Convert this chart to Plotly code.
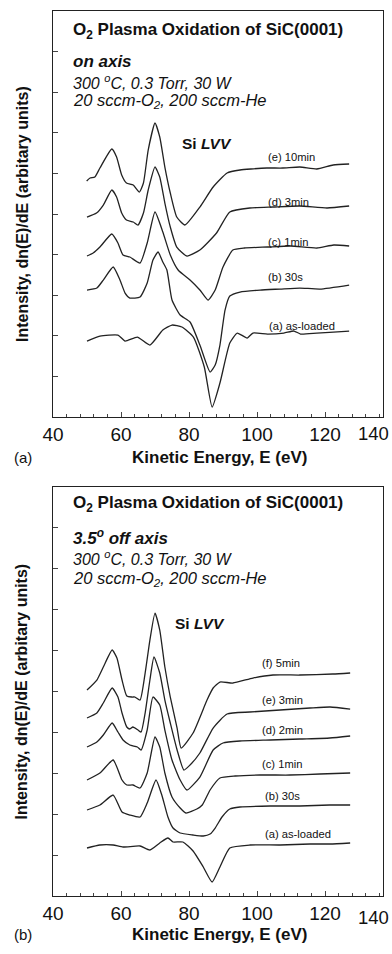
import plotly.graph_objects as go

# ---------------- Panel (a): on axis ----------------
# Kinetic energy (eV) and intensity (arbitrary units, offset curves)
a_e_E = [49.9, 50.9, 52.3, 53.8, 57.3, 58.7, 60.2, 61.6, 63.6, 65.4, 66.6, 68.0, 70.0, 71.4, 72.9, 74.5, 76.4, 78.8, 83.2, 87.1, 91.2, 95.0, 98.2, 102.9, 107.6, 112.6, 117.6, 122.4, 127.1]
a_e_I = [236, 239, 240, 249, 268, 260, 242, 234, 232, 225, 234, 267, 294, 280, 250, 224, 200, 192, 210, 230, 244, 247, 248, 249, 249, 250, 248, 252, 253]

a_d_E = [50.0, 52.8, 54.8, 57.3, 58.7, 60.2, 61.6, 63.6, 65.0, 66.6, 68.0, 70.0, 71.4, 72.9, 74.5, 76.4, 79.4, 83.2, 88.1, 92.0, 97.9, 104.7, 112.6, 120.6, 127.1]
a_d_I = [200, 204, 212, 227, 220, 204, 197, 195, 192, 204, 227, 250, 240, 214, 190, 170, 161, 167, 184, 205, 209, 210, 211, 209, 211]

a_c_E = [50.0, 51.8, 53.8, 57.3, 59.1, 60.6, 62.6, 65.6, 67.7, 70.0, 72.3, 74.5, 76.8, 80.3, 83.2, 85.6, 87.7, 90.0, 92.9, 96.3, 103.1, 109.9, 117.6, 122.6, 127.1]
a_c_I = [161, 164, 170, 183, 174, 162, 160, 154, 174, 205, 185, 162, 147, 137, 127, 117, 127, 150, 167, 169, 170, 171, 169, 172, 171]

a_b_E = [50.0, 52.9, 54.8, 57.7, 59.7, 61.2, 62.6, 65.6, 67.7, 69.4, 70.9, 72.3, 73.5, 75.0, 77.4, 80.3, 83.2, 86.2, 87.7, 89.1, 90.6, 92.0, 95.0, 100.9, 106.8, 112.6, 118.5, 127.1]
a_b_I = [127, 129, 137, 150, 137, 124, 119, 120, 134, 157, 165, 155, 147, 117, 102, 95, 72, 45, 52, 72, 107, 121, 125, 127, 128, 129, 128, 132]

a_a_E = [50.0, 53.8, 59.1, 61.2, 64.8, 68.5, 72.3, 75.0, 77.9, 81.3, 84.5, 86.8, 89.1, 92.0, 94.2, 97.1, 98.8, 103.1, 107.9, 110.9, 112.8, 117.6, 122.5, 127.1]
a_a_I = [76, 81, 82, 76, 80, 72, 87, 92, 90, 80, 50, 10, 34, 74, 84, 79, 84, 83, 84, 86, 83, 84, 85, 86]

# ---------------- Panel (b): 3.5 deg off axis ----------------
b_f_E = [50.0, 52.9, 54.8, 57.4, 58.8, 60.3, 61.7, 63.2, 64.1, 65.6, 67.1, 68.5, 70.0, 71.4, 72.9, 74.5, 76.5, 77.7, 81.2, 85.3, 87.1, 89.1, 92.9, 98.8, 104.7, 112.6, 122.3, 127.4]
b_f_I = [206, 216, 229, 246, 238, 216, 200, 199, 199, 196, 223, 256, 283, 266, 229, 199, 168, 148, 163, 196, 208, 214, 213, 218, 221, 221, 222, 223]

b_e_E = [50.0, 52.9, 54.8, 57.4, 59.1, 60.3, 61.7, 62.6, 63.5, 65.0, 65.9, 67.1, 68.5, 69.7, 71.4, 72.9, 74.5, 76.5, 78.5, 80.3, 83.2, 87.1, 91.2, 97.9, 106.8, 115.6, 121.5, 127.4]
b_e_I = [178, 183, 193, 208, 199, 183, 169, 167, 169, 166, 164, 183, 216, 239, 223, 196, 173, 146, 126, 131, 143, 168, 182, 184, 186, 188, 189, 187]

b_d_E = [50.0, 52.9, 54.8, 57.4, 59.1, 60.6, 62.6, 64.8, 65.9, 67.7, 69.4, 71.4, 72.9, 75.0, 77.4, 79.4, 83.2, 87.1, 90.0, 95.0, 103.9, 112.6, 121.4, 127.4]
b_d_I = [149, 154, 161, 173, 164, 156, 151, 149, 146, 166, 199, 191, 166, 136, 116, 106, 119, 146, 153, 155, 156, 157, 158, 160]

b_c_E = [50.0, 53.8, 57.7, 60.3, 61.7, 63.5, 65.6, 67.7, 70.0, 71.4, 72.9, 75.0, 77.4, 79.1, 82.3, 83.9, 86.2, 89.1, 93.6, 100.9, 109.7, 118.5, 127.4]
b_c_I = [116, 123, 136, 116, 111, 111, 108, 123, 159, 149, 123, 99, 88, 83, 87, 91, 106, 118, 120, 121, 121, 122, 123]

b_b_E = [50.0, 53.8, 57.7, 60.3, 62.6, 65.6, 67.7, 70.3, 72.0, 73.8, 75.3, 77.4, 81.2, 84.2, 86.2, 87.7, 89.7, 92.0, 95.0, 103.9, 112.6, 121.4, 127.4]
b_b_I = [86, 91, 101, 84, 81, 79, 93, 116, 101, 79, 68, 63, 61, 60, 62, 68, 79, 87, 89, 90, 90, 91, 91]

b_a_E = [50.0, 53.8, 57.7, 60.6, 65.6, 68.5, 71.4, 73.8, 75.3, 78.2, 81.2, 84.2, 86.8, 89.1, 92.0, 97.9, 106.8, 115.6, 121.5, 127.4]
b_a_I = [48, 51, 51, 49, 50, 46, 53, 58, 54, 54, 45, 29, 14, 29, 48, 51, 51, 52, 52, 53]

x_ticks = [40, 60, 80, 100, 120, 140]
x_range = [40, 137.06]

curves_a = [(a_e_E, a_e_I), (a_d_E, a_d_I), (a_c_E, a_c_I), (a_b_E, a_b_I), (a_a_E, a_a_I)]
curves_b = [(b_f_E, b_f_I), (b_e_E, b_e_I), (b_d_E, b_d_I), (b_c_E, b_c_I), (b_b_E, b_b_I), (b_a_E, b_a_I)]

labels_a = ["(e) 10min", "(d) 3min", "(c) 1min", "(b) 30s", "(a) as-loaded"]
labels_a_pos = [(102.6, 260), (102.6, 215), (102.6, 175), (102.6, 140), (102.9, 91)]
labels_b = ["(f) 5min", "(e) 3min", "(d) 2min", "(c) 1min", "(b) 30s", "(a) as-loaded"]
labels_b_pos = [(100.9, 233), (100.9, 196), (100.9, 166), (100.9, 132), (101.8, 100), (101.8, 62)]

FONT = "Liberation Sans, Arial, sans-serif"
LINE = dict(color="#222222", width=1.3, shape="spline", smoothing=0.5)

fig = go.Figure()
for E, I in curves_a:
    fig.add_trace(go.Scatter(x=E, y=I, mode="lines", line=LINE, xaxis="x", yaxis="y", showlegend=False))
for E, I in curves_b:
    fig.add_trace(go.Scatter(x=E, y=I, mode="lines", line=LINE, xaxis="x2", yaxis="y2", showlegend=False))

ann = []
def txt(t, x, y, xref, yref, size, xanchor="left", yanchor="middle", angle=0):
    ann.append(dict(text=t, x=x, y=y, xref=xref, yref=yref, showarrow=False,
                    xanchor=xanchor, yanchor=yanchor, textangle=angle,
                    font=dict(family=FONT, size=size, color="#111")))

for xr, yr, off, ys in [("x", "y", "on axis", (386, 356, 335, 316)),
                        ("x2", "y2", "3.5<sup>o</sup> off axis", (392, 359, 338, 317))]:
    txt("<b>O<sub>2</sub> Plasma Oxidation of SiC(0001)</b>", 45.3, ys[0], xr, yr, 17)
    txt("<b><i>" + off + "</i></b>", 45.3, ys[1], xr, yr, 17)
    txt("<i>300 <sup>o</sup>C, 0.3 Torr, 30 W</i>", 45.3, ys[2], xr, yr, 16)
    txt("<i>20 sccm-O<sub>2</sub>, 200 sccm-He</i>", 45.3, ys[3], xr, yr, 16.5)

txt("<b>Si <i>LVV</i></b>", 77.4, 274, "x", "y", 15.5)
txt("<b>Si <i>LVV</i></b>", 75.3, 273, "x2", "y2", 15.5)
for t, (x, y) in zip(labels_a, labels_a_pos):
    txt(t, x, y, "x", "y", 11.2)
for t, (x, y) in zip(labels_b, labels_b_pos):
    txt(t, x, y, "x2", "y2", 11.2)

# "140" tick label sits past the right frame, at the page edge
txt("140", 1.0242, 0.5225, "paper", "paper", 18.5, xanchor="right")
txt("140", 1.0242, -0.0245, "paper", "paper", 18.5, xanchor="right")

# axis titles and panel letters
txt("<b>Kinetic Energy, E (eV)</b>", 0.505, 0.496, "paper", "paper", 17, xanchor="center")
txt("<b>Kinetic Energy, E (eV)</b>", 0.505, -0.044, "paper", "paper", 17, xanchor="center")
txt("(a)", -0.125, 0.496, "paper", "paper", 15)
txt("(b)", -0.125, -0.044, "paper", "paper", 15)
txt("<b>Intensity, dn(E)/dE (arbitary units)</b>", -0.094, 0.7706, "paper", "paper", 16, xanchor="center", angle=-90)
txt("<b>Intensity, dn(E)/dE (arbitary units)</b>", -0.094, 0.231, "paper", "paper", 16, xanchor="center", angle=-90)

xcommon = dict(range=x_range, tickvals=x_ticks, ticks="inside", ticklen=5, tickwidth=1,
               showline=True, linecolor="#222", linewidth=1.2, mirror=True, showgrid=False,
               zeroline=False, tickfont=dict(family=FONT, size=19, color="#111"),
               minor=dict(ticks="inside", ticklen=3, dtick=4, tickcolor="#444"))
ycommon = dict(showticklabels=False, ticks="inside", ticklen=5, tickwidth=1,
               showline=True, linecolor="#222", linewidth=1.2, mirror=True, showgrid=False,
               zeroline=False, minor=dict(ticks="inside", ticklen=3, nticks=5, tickcolor="#444"))

fig.update_layout(
    width=392, height=954,
    margin=dict(l=53, r=9, t=11, b=58),
    paper_bgcolor="white", plot_bgcolor="white",
    xaxis=dict(domain=[0, 1], anchor="y", **xcommon),
    yaxis=dict(domain=[0.5412, 1], anchor="x", range=[0, 406], tick0=0, dtick=40.6, **ycommon),
    xaxis2=dict(domain=[0, 1], anchor="y2", **xcommon),
    yaxis2=dict(domain=[0, 0.4621], anchor="x2", range=[0, 409], tick0=0, dtick=40.9, **ycommon),
    annotations=ann,
)

fig.write_html("out.html")
